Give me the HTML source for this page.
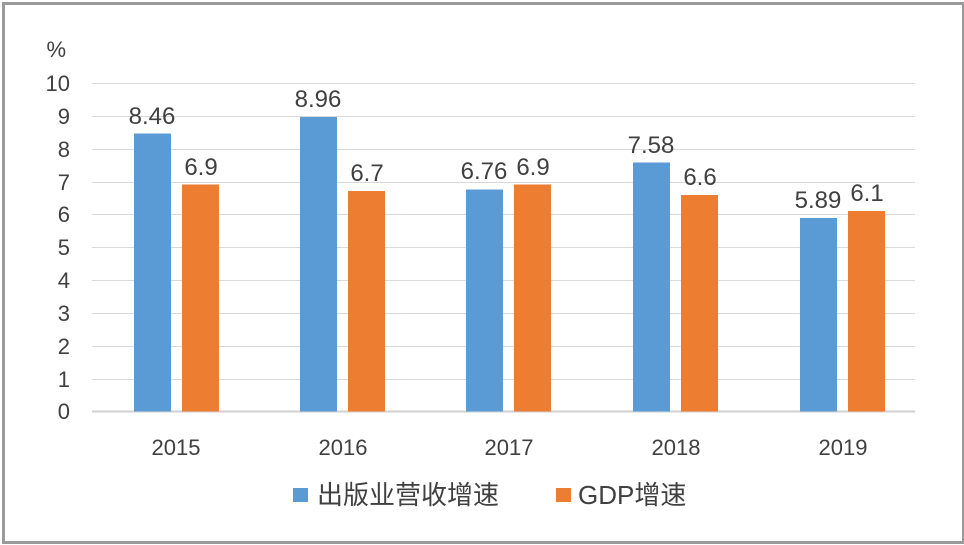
<!DOCTYPE html>
<html><head><meta charset="utf-8"><style>
html,body{margin:0;padding:0;background:#fff;}
svg{display:block;}
text{font-family:"Liberation Sans","Noto Sans CJK SC",sans-serif;fill:#404040;}
</style></head><body>
<svg width="964" height="545" viewBox="0 0 964 545" xmlns="http://www.w3.org/2000/svg">
<rect x="0" y="0" width="964" height="545" fill="#fff"/>
<rect x="3.5" y="3.5" width="960" height="539" fill="none" stroke="#9a9a9a" stroke-width="3"/>
<g stroke="#d9d9d9" stroke-width="1">
<line x1="92" x2="915" y1="83.5" y2="83.5"/><line x1="92" x2="915" y1="116.5" y2="116.5"/>
<line x1="92" x2="915" y1="149.5" y2="149.5"/><line x1="92" x2="915" y1="182.5" y2="182.5"/>
<line x1="92" x2="915" y1="214.5" y2="214.5"/><line x1="92" x2="915" y1="247.5" y2="247.5"/>
<line x1="92" x2="915" y1="280.5" y2="280.5"/><line x1="92" x2="915" y1="313.5" y2="313.5"/>
<line x1="92" x2="915" y1="346.5" y2="346.5"/><line x1="92" x2="915" y1="379.5" y2="379.5"/>
</g>
<line x1="92" x2="915" y1="411.5" y2="411.5" stroke="#d0d0d0" stroke-width="2"/>
<g font-size="22" text-anchor="end">
<text x="66" y="57">%</text>
<text x="70" y="91">10</text><text x="70" y="124">9</text><text x="70" y="157">8</text>
<text x="70" y="190">7</text><text x="70" y="222">6</text><text x="70" y="255">5</text>
<text x="70" y="288">4</text><text x="70" y="321">3</text><text x="70" y="354">2</text>
<text x="70" y="387">1</text><text x="70" y="419">0</text>
</g>
<g fill="#5b9bd5">
<rect x="134" y="133.5" width="37" height="278"/>
<rect x="300" y="117" width="37" height="294.5"/>
<rect x="466" y="189.5" width="37" height="222"/>
<rect x="633" y="162.5" width="37" height="249"/>
<rect x="800" y="218" width="37" height="193.5"/>
</g>
<g fill="#ed7d31">
<rect x="182" y="184.5" width="37" height="227"/>
<rect x="348" y="191" width="37" height="220.5"/>
<rect x="514" y="184.5" width="37" height="227"/>
<rect x="681" y="195" width="37" height="216.5"/>
<rect x="848" y="211" width="37" height="200.5"/>
</g>
<g font-size="24" text-anchor="middle">
<text x="152" y="124">8.46</text><text x="201" y="175">6.9</text>
<text x="318" y="107">8.96</text><text x="367" y="181">6.7</text>
<text x="484" y="179">6.76</text><text x="533" y="175">6.9</text>
<text x="651" y="153">7.58</text><text x="700" y="185">6.6</text>
<text x="818" y="208">5.89</text><text x="867" y="201">6.1</text>
</g>
<g font-size="22" text-anchor="middle">
<text x="176" y="455">2015</text><text x="343" y="455">2016</text>
<text x="509" y="455">2017</text><text x="676" y="455">2018</text>
<text x="843" y="455">2019</text>
</g>
<rect x="293" y="488" width="15" height="14" fill="#5b9bd5"/>
<text x="317" y="504" font-size="26">出版业营收增速</text>
<rect x="556" y="488" width="15" height="14" fill="#ed7d31"/>
<text x="578" y="504" font-size="26">GDP增速</text>
</svg>
</body></html>
